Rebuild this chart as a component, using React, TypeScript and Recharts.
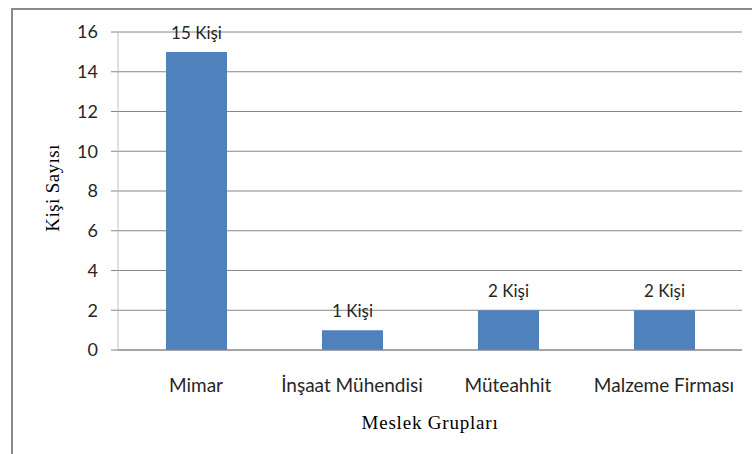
import { BarChart, Bar, XAxis, YAxis, CartesianGrid, LabelList } from "recharts";

const categories = ["Mimar", "İnşaat Mühendisi", "Müteahhit", "Malzeme Firması"];
const counts = [15, 1, 2, 2];
const yTicks = [0, 2, 4, 6, 8, 10, 12, 14, 16];

const data = categories.map((name, i) => ({ name, value: counts[i] }));

const sans = "Lato, 'Open Sans', sans-serif";
const serif = "'Liberation Serif', 'DejaVu Serif', serif";

const App = () => {
  return (
    <div style={{ position: "absolute", left: 0, top: 0, width: 752, height: 454, background: "#fff", overflow: "hidden" }}>
      <div
        style={{
          position: "absolute",
          left: 11,
          top: 8,
          width: 800,
          height: 500,
          borderLeft: "2px solid #8c8c8c",
          borderTop: "2px solid #8c8c8c",
        }}
      />
      <BarChart
        width={752}
        height={454}
        data={data}
        margin={{ top: 32, right: 10, bottom: 0, left: 0 }}
        style={{ position: "absolute", left: 0, top: 0 }}
      >
        <CartesianGrid vertical={false} stroke="#868686" strokeWidth={1} />
        <XAxis
          dataKey="name"
          height={104}
          axisLine={{ stroke: "#868686" }}
          tickLine={false}
          tickMargin={23}
          tick={{ fill: "#262626", fontSize: 19, fontFamily: sans }}
          label={{
            content: () => (
              <text x={430} y={429} textAnchor="middle" fontFamily={serif} fontSize={19} letterSpacing={0.8} fill="#000">
                Meslek Grupları
              </text>
            ),
          }}
        />
        <YAxis
          width={118}
          domain={[0, 16]}
          ticks={yTicks}
          axisLine={{ stroke: "#c0c0c0" }}
          tickLine={{ stroke: "#868686" }}
          tickSize={7}
          tickMargin={13}
          tick={{ fill: "#262626", fontSize: 18, fontFamily: sans }}
          label={{
            content: () => (
              <text
                x={52}
                y={188}
                textAnchor="middle"
                dominantBaseline="central"
                transform="rotate(-90 52 188)"
                fontFamily={serif}
                fontSize={19}
                letterSpacing={0.4}
                fill="#000"
              >
                Kişi Sayısı
              </text>
            ),
          }}
        />
        <Bar dataKey="value" fill="#4F81BD" barSize={61} isAnimationActive={false}>
          <LabelList
            dataKey="value"
            position="top"
            offset={13}
            formatter={(v: number) => `${v} Kişi`}
            style={{ fill: "#262626", fontSize: 17, fontFamily: sans }}
          />
        </Bar>
      </BarChart>
    </div>
  );
};

export default App;
